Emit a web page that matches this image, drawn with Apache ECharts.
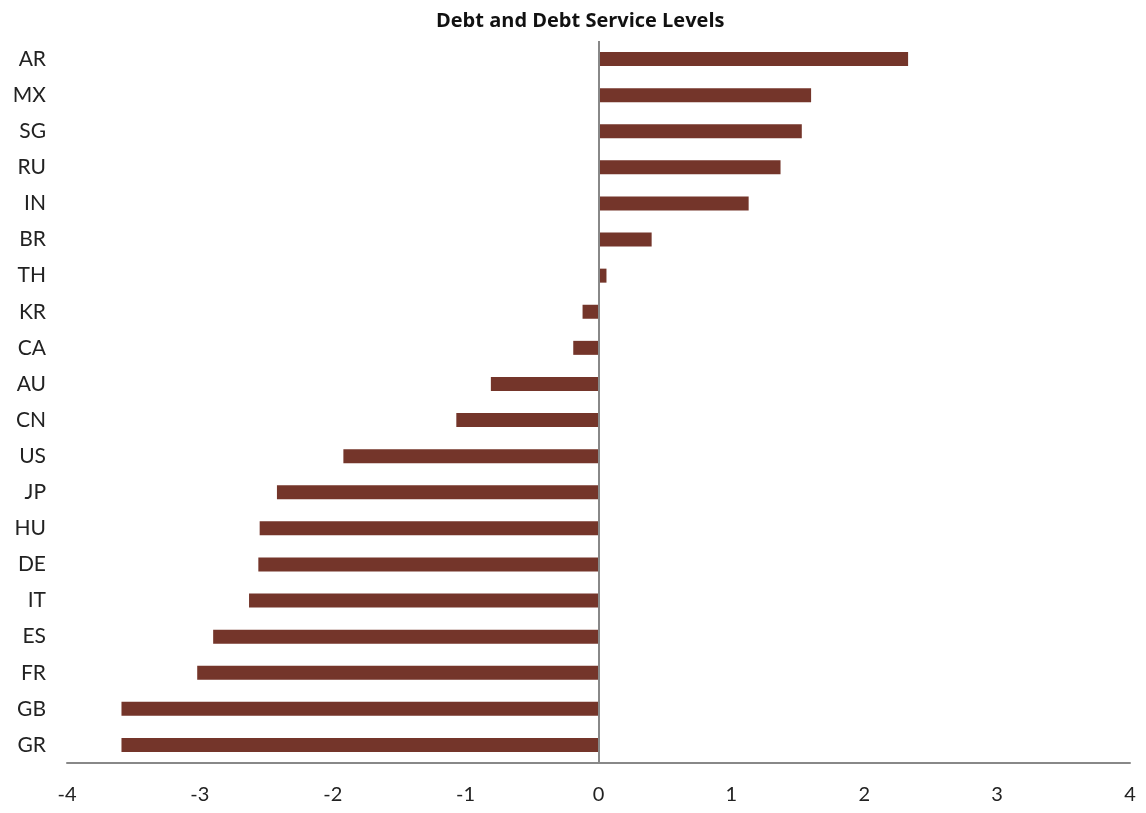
<!DOCTYPE html>
<html>
<head>
<meta charset="utf-8">
<script src="https://cdn.jsdelivr.net/npm/echarts@6/dist/echarts.min.js"></script>
<style>html,body{margin:0;padding:0;background:#fff;}#c{width:1146px;height:813px;}</style>
</head>
<body>
<div id="c"></div>
<script>
const categories = ['AR','MX','SG','RU','IN','BR','TH','KR','CA','AU','CN','US','JP','HU','DE','IT','ES','FR','GB','GR'];
const values = [2.33,1.60,1.53,1.37,1.13,0.40,0.06,-0.12,-0.19,-0.81,-1.07,-1.92,-2.42,-2.55,-2.56,-2.63,-2.90,-3.02,-3.59,-3.59];
const xTicks = [-4,-3,-2,-1,0,1,2,3,4];
const titleText = 'Debt and Debt Service Levels';

const chart = echarts.init(document.getElementById('c'), null, {renderer:'canvas'});
chart.setOption({
  animation:false,
  backgroundColor:'#ffffff',
  title:{text:titleText,left:431,top:6,textStyle:{fontFamily:'Open Sans',fontWeight:'bold',fontSize:20,color:'#111'}},
  grid:{left:67,right:16,top:41,bottom:50,containLabel:false},
  xAxis:{type:'value',min:xTicks[0],max:xTicks[xTicks.length-1],interval:1,
    axisLine:{show:true,onZero:false,lineStyle:{color:'#888',width:2}},
    axisTick:{show:false},splitLine:{show:false},
    axisLabel:{margin:22,fontFamily:'Lato',fontSize:20,color:'#222'}},
  yAxis:{type:'category',data:categories,inverse:true,
    axisLine:{show:false},axisTick:{show:false},splitLine:{show:false},
    axisLabel:{margin:21,fontFamily:'Lato',fontSize:21,color:'#222'}},
  series:[{type:'bar',data:values,barWidth:14,itemStyle:{color:'#74352a'},
    markLine:{silent:true,symbol:'none',label:{show:false},lineStyle:{color:'#888',width:2,type:'solid'},data:[{xAxis:0}]}}]
});
</script>
</body>
</html>
